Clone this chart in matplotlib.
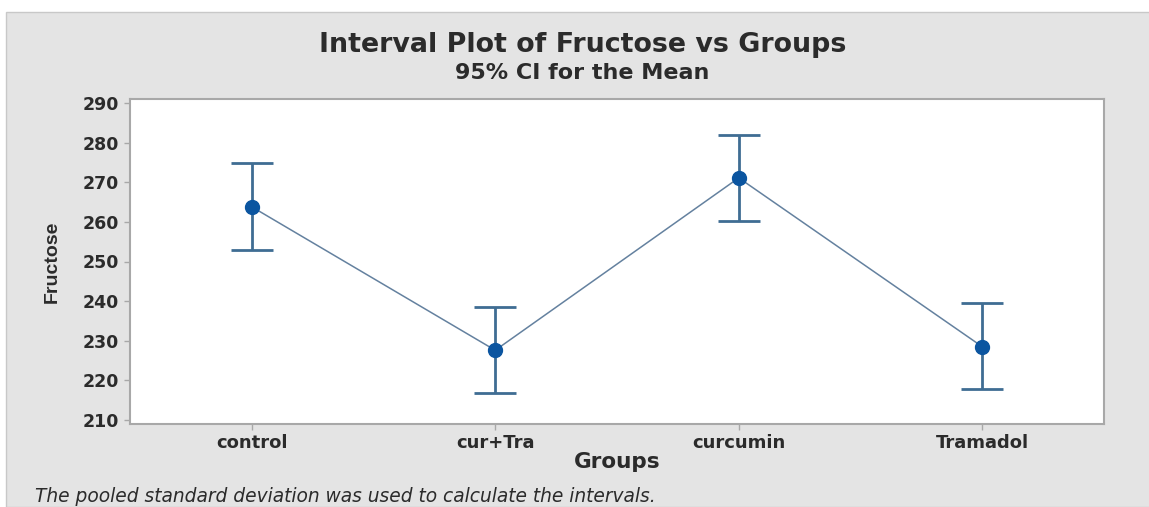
import matplotlib.pyplot as plt
from matplotlib.patches import Rectangle

# Dados (média e IC 95%)
grupos = ["control", "cur+Tra", "curcumin", "Tramadol"]
medias = [263.8, 227.6, 271.1, 228.5]
ic_inf = [253.0, 216.8, 260.3, 217.9]
ic_sup = [274.9, 238.5, 281.9, 239.5]

fonte = ["DejaVu Sans"]
cor_fundo = "#e4e4e4"
cor_texto = "#2b2b2b"

fig = plt.figure(figsize=(11.49, 5.07), dpi=100)
fig.patch.set_facecolor("white")
# painel cinza (deixa uma faixa branca em cima e à esquerda)
fig.patches.append(Rectangle((6 / 1149, 0), 1, 1 - 12 / 507, transform=fig.transFigure,
                             facecolor=cor_fundo, edgecolor="#c8c8c8", linewidth=1, zorder=-5))

ax = fig.add_axes([130 / 1149, 1 - 424 / 507, 974 / 1149, 325 / 507])
ax.set_facecolor("white")

x = list(range(len(grupos)))
erro_baixo = [m - l for m, l in zip(medias, ic_inf)]
erro_cima = [u - m for m, u in zip(medias, ic_sup)]

# linha ligando as médias
ax.plot(x, medias, color="#64819f", linewidth=1.1, zorder=2)
# intervalos
ax.errorbar(x, medias, yerr=[erro_baixo, erro_cima], fmt="none", ecolor="#3f6d93",
            elinewidth=2, capsize=15, capthick=2, zorder=3)
ax.plot(x, medias, "o", color="#0b55a0", markersize=10, zorder=4)

ax.set_xlim(-0.5, 3.5)
ax.set_ylim(209, 291)
ax.set_yticks(range(210, 291, 10))
ax.set_xticks(x)
ax.set_xticklabels(grupos)

for s in ax.spines.values():
    s.set_color("#a8a8a8")
    s.set_linewidth(1.5)
ax.tick_params(axis="both", colors="#a8a8a8", length=4, width=1, labelcolor=cor_texto)
ax.tick_params(axis="y", pad=4, labelsize=12.5)
ax.tick_params(axis="x", pad=3, labelsize=13)
for lbl in ax.get_xticklabels() + ax.get_yticklabels():
    lbl.set_fontfamily(fonte)
    lbl.set_fontweight("bold")

ax.set_xlabel("Groups", fontfamily=fonte, fontweight="bold", fontsize=15.5,
              color=cor_texto, labelpad=0)
ax.set_ylabel("Fructose", family=["Liberation Sans", "DejaVu Sans"], fontweight="bold",
              fontsize=14, color=cor_texto, labelpad=16)

fig.text(0.507, 1 - 45 / 507, "Interval Plot of Fructose vs Groups", ha="center", va="center",
         fontfamily=fonte, fontweight="bold", fontsize=19.4, color=cor_texto)
fig.text(0.507, 1 - 73 / 507, "95% CI for the Mean", ha="center", va="center",
         fontfamily=fonte, fontweight="bold", fontsize=16, color=cor_texto)
fig.text(35 / 1149, 1 - 497 / 507, "The pooled standard deviation was used to calculate the intervals.",
         ha="left", va="center", fontfamily=fonte, fontstyle="italic", fontsize=13.4, color=cor_texto)

fig.savefig("out.png", dpi=100)
